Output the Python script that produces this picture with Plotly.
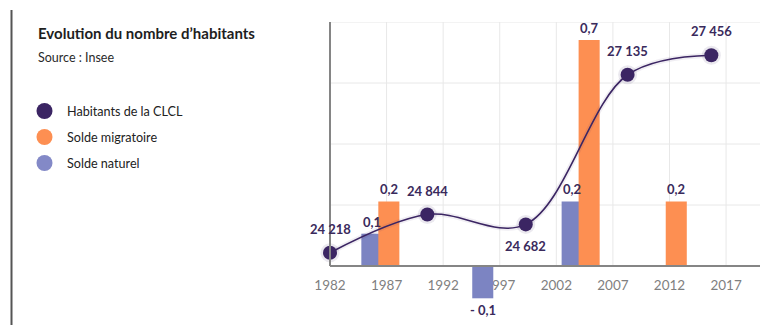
import plotly.graph_objects as go

# --- Data -------------------------------------------------------------
# Population of the CLCL at each census (x = year position on the time axis)
pop_years = [1982.0, 1990.6, 1999.3, 2008.3, 2015.7]
pop_values = [24218, 24844, 24682, 27135, 27456]

# Natural balance (%/year) per inter-census period
nat_years = [1985.7, 1995.5, 2003.4]
nat_values = [0.1, -0.1, 0.2]

# Migration balance (%/year) per inter-census period
mig_years = [1987.2, 2004.9, 2012.6]
mig_values = [0.2, 0.7, 0.2]

tick_years = [1982, 1987, 1992, 1997, 2002, 2007, 2012, 2017]

# --- Styling ----------------------------------------------------------
FONT = "Lato"
PURPLE = "#3b2563"
ORANGE = "#fd8f52"
BLUE = "#7c84c2"
LABEL = "#3a2a5c"
GRID = "#e8e8e8"
AXIS = "#858585"

W, H = 760, 325
M_L, M_R, M_T, M_B = 330, 0, 22, 20
PLOT_W = W - M_L - M_R
PLOT_H = H - M_T - M_B

X_RANGE = [1982, 2020]
ZERO_PX = 266          # pixel row of the baseline
BAR_PX_PER_UNIT = 323  # pixels per 1.0 of balance
POP_PX_PER_UNIT = 244 / 4000


def paper_x(px):
    return (px - M_L) / PLOT_W


def paper_y(py):
    return (H - M_B - py) / PLOT_H


bar_range = [-(H - M_B - ZERO_PX) / BAR_PX_PER_UNIT, (ZERO_PX - M_T) / BAR_PX_PER_UNIT]
pop_range = [24000 - (H - M_B - ZERO_PX) / POP_PX_PER_UNIT, 28000]


def fmt_rate(v):
    s = f"{abs(v):.1f}".replace(".", ",")
    return f"- {s}" if v < 0 else s


def fmt_pop(v):
    return f"{v:,}".replace(",", " ")


fig = go.Figure()

fig.add_trace(go.Bar(
    x=nat_years, y=nat_values, width=1.86, name="Solde naturel",
    marker=dict(color=BLUE, line=dict(width=0)), yaxis="y", showlegend=False,
))
fig.add_trace(go.Bar(
    x=mig_years, y=mig_values, width=1.86, name="Solde migratoire",
    marker=dict(color=ORANGE, line=dict(width=0)), yaxis="y", showlegend=False,
))

# soft glow under the population curve
fig.add_trace(go.Scatter(
    x=pop_years, y=pop_values, yaxis="y2", mode="lines+markers",
    line=dict(shape="spline", smoothing=1.0, color="rgba(59,37,99,0.08)", width=5),
    marker=dict(size=19, color="rgba(59,37,99,0.10)"),
    cliponaxis=False, showlegend=False, hoverinfo="skip",
))
fig.add_trace(go.Scatter(
    x=pop_years, y=pop_values, yaxis="y2", mode="lines+markers",
    name="Habitants de la CLCL",
    line=dict(shape="spline", smoothing=1.0, color=PURPLE, width=1.6),
    marker=dict(size=14, color=PURPLE),
    cliponaxis=False, showlegend=False,
))

shapes = []
# vertical grid lines
for yr in tick_years[1:]:
    shapes.append(dict(type="line", xref="x", yref="y2", x0=yr, x1=yr, y0=24000, y1=28000,
                       line=dict(color=GRID, width=1), layer="below"))
# horizontal grid lines
for v in [25000, 26000, 27000, 28000]:
    shapes.append(dict(type="line", xref="paper", yref="y2", x0=0, x1=1, y0=v, y1=v,
                       line=dict(color=GRID, width=1), layer="below"))
# axis lines
shapes.append(dict(type="line", xref="paper", yref="y2", x0=0, x1=0, y0=24000, y1=28000,
                   line=dict(color=AXIS, width=2), layer="above"))
shapes.append(dict(type="line", xref="paper", yref="y", x0=0, x1=1, y0=0, y1=0,
                   line=dict(color=AXIS, width=2), layer="above"))
# page rule on the far left
shapes.append(dict(type="line", xref="paper", yref="paper",
                   x0=paper_x(11.5), x1=paper_x(11.5), y0=paper_y(10), y1=paper_y(325),
                   line=dict(color="#555555", width=2)))

annotations = []
# value labels for the population curve
for i, (x, v) in enumerate(zip(pop_years, pop_values)):
    below = i == 2
    annotations.append(dict(
        x=x, y=v, xref="x", yref="y2", text=fmt_pop(v), showarrow=False,
        yanchor="middle", xanchor="center", yshift=-22 if below else 24,
        font=dict(family=FONT, size=13, color=LABEL, weight="bold"),
    ))
# value labels for the bars
for xs, vs in [(nat_years, nat_values), (mig_years, mig_values)]:
    for x, v in zip(xs, vs):
        annotations.append(dict(
            x=x, y=v, xref="x", yref="y", text=fmt_rate(v), showarrow=False,
            yanchor="middle", xanchor="center", yshift=12 if v >= 0 else -12,
            font=dict(family=FONT, size=13, color=LABEL, weight="bold"),
        ))

# title block
annotations.append(dict(
    x=paper_x(36), y=paper_y(33), xref="paper", yref="paper", xanchor="left", yanchor="middle",
    text="<b>Evolution du nombre d’habitants</b>", showarrow=False,
    font=dict(family=FONT, size=15, color="#1e1e1e"),
))
annotations.append(dict(
    x=paper_x(36), y=paper_y(57), xref="paper", yref="paper", xanchor="left", yanchor="middle",
    text="Source : Insee", showarrow=False,
    font=dict(family=FONT, size=12.5, color="#2a2a2a"),
))

# legend built from circles and labels
legend_items = [("Habitants de la CLCL", PURPLE), ("Solde migratoire", ORANGE), ("Solde naturel", "#8389c7")]
for k, (label, color) in enumerate(legend_items):
    cy = 111 + k * 26
    shapes.append(dict(type="circle", xref="paper", yref="paper",
                       x0=paper_x(36.5), x1=paper_x(52.5), y0=paper_y(cy + 8), y1=paper_y(cy - 8),
                       fillcolor=color, line=dict(width=0)))
    annotations.append(dict(
        x=paper_x(65), y=paper_y(cy), xref="paper", yref="paper", xanchor="left", yanchor="middle",
        text=label, showarrow=False, font=dict(family=FONT, size=12.6, color="#222222"),
    ))

fig.update_layout(
    width=W, height=H,
    margin=dict(l=M_L, r=M_R, t=M_T, b=M_B),
    paper_bgcolor="white", plot_bgcolor="white",
    barmode="overlay",
    xaxis=dict(
        range=X_RANGE, tickmode="array", tickvals=tick_years, ticktext=[str(t) for t in tick_years],
        showgrid=False, zeroline=False, showline=False, ticks="",
        anchor="free", position=paper_y(ZERO_PX), layer="below traces",
        ticklabelstandoff=9,
        tickfont=dict(family=FONT, size=13.5, color="#7f7f7f"),
    ),
    yaxis=dict(range=bar_range, visible=False, showgrid=False, zeroline=False),
    yaxis2=dict(range=pop_range, overlaying="y", visible=False, showgrid=False, zeroline=False),
    shapes=shapes, annotations=annotations,
    showlegend=False,
)

fig.write_html("out.html")
